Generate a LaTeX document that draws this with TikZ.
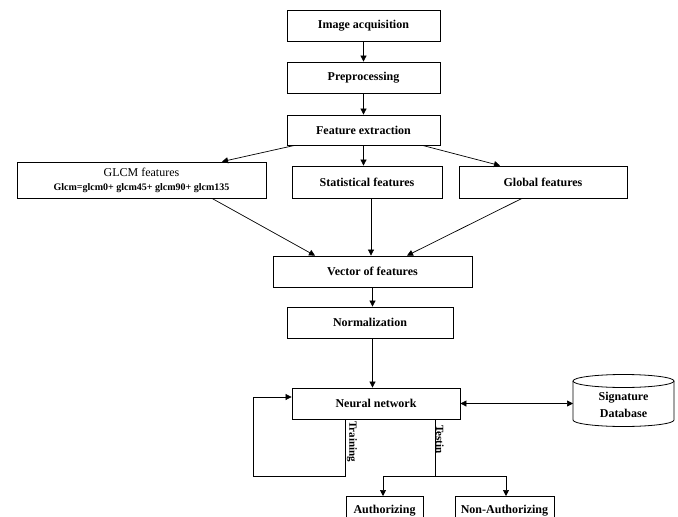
\documentclass[tikz,border=0pt]{standalone}
\usepackage{fontspec}
\setmainfont{Liberation Serif}
\usetikzlibrary{arrows.meta,calc}
\begin{document}
\begin{tikzpicture}[x=1pt,y=-1pt,
  box/.style={draw,line width=0.8pt,fill=white,inner sep=0pt,font=\fontsize{12}{14}\selectfont\bfseries,anchor=center},
  arr/.style={line width=0.7pt,-{Triangle[length=6pt,width=6pt]}},
  ln/.style={line width=0.7pt},
  lab/.style={font=\fontsize{11}{13}\selectfont\bfseries,rotate=-90,inner sep=0pt}]
\useasboundingbox (0,0) rectangle (678,517);
\clip (0,0) rectangle (678,517);
\node[box,minimum width=153,minimum height=31] (img) at (363.5,25.5) {Image acquisition};
\node[box,minimum width=153,minimum height=31] (pre) at (363.5,77.5) {Preprocessing};
\node[box,minimum width=153,minimum height=30] (fe) at (363.5,130) {Feature extraction};
\node[box,minimum width=249,minimum height=36,align=center] (glcm) at (141.5,180) {\fontsize{12}{13}\selectfont\mdseries GLCM features\\[0pt]\fontsize{10}{11}\selectfont\bfseries Glcm=glcm0+ glcm45+ glcm90+ glcm135};
\node[box,minimum width=150,minimum height=32] (stat) at (367,182) {Statistical features};
\node[box,minimum width=168,minimum height=32] (glob) at (543,182) {Global features};
\node[box,minimum width=199,minimum height=31] (vec) at (372.5,271.5) {Vector of features};
\node[box,minimum width=166,minimum height=31] (norm) at (370,322.5) {Normalization};
\node[box,minimum width=168,minimum height=31] (nn) at (376,403.5) {Neural network};
\node[box,minimum width=77,minimum height=30] (auth) at (384.5,511) {Authorizing};
\node[box,minimum width=99,minimum height=30] (non) at (504.5,511) {Non-Authorizing};
% cylinder database
\draw[line width=0.8pt,fill=white] (573,381) -- (573,420) arc[start angle=180,end angle=0,x radius=50.5,y radius=6.5] -- (674,381);
\draw[line width=0.8pt,fill=white] (623.5,381) ellipse[x radius=50.5,y radius=6.5];
\node[inner sep=0pt,align=center,font=\fontsize{12}{17}\selectfont\bfseries] (db) at (623.5,405) {Signature\\Database};
\coordinate (dbw) at (573,404);
% arrows
\draw[arr] (img.south) -- (pre.north);
\draw[arr] (pre.south) -- (fe.north);
\draw[arr] (fe) -- ($(glcm.north)+(80.5,0)$);
\draw[arr] (fe.south) -- (fe.south |- stat.north);
\draw[arr] (fe) -- ($(glob.north)+(-43,0)$);
\draw[arr] ($(glcm.south)+(70.5,0)$) -- ($(vec.north)+(-57.5,0)$);
\draw[arr] ($(stat.south)+(4,0)$) -- ($(stat.south |- vec.north)+(4,0)$);
\draw[arr] ($(glob.south)+(-21,0)$) -- ($(vec.north)+(34.5,0)$);
\draw[arr] (vec.south) -- (vec.south |- norm.north);
\draw[arr] (vec.south |- norm.south) -- (vec.south |- nn.north);
\draw[arr,{Triangle[length=6pt,width=6pt]}-{Triangle[length=6pt,width=6pt]}] (nn.east) -- (nn.east -| dbw);
% training loop
\coordinate (tr0) at ($(nn.south)+(-31,0)$);
\coordinate (trb) at (253,476);
\coordinate (trt) at (253,397);
\draw[arr] (tr0) -- (tr0 |- trb) -- (trb) -- (trt) -- (nn.west |- trt);
\node[lab,anchor=west] (trl) at (352,421) {Training};
% testing
\coordinate (te0) at ($(nn.south)+(59,0)$);
\coordinate (br) at (435,476);
\draw[ln] (te0) -- (br);
\draw[arr] (br) -- (383,476) -- (383,496);
\draw[arr] (br) -- (506,476) -- (506,496);
\node[lab,anchor=west] (tel) at (440,425) {Testin};
\end{tikzpicture}
\end{document}
